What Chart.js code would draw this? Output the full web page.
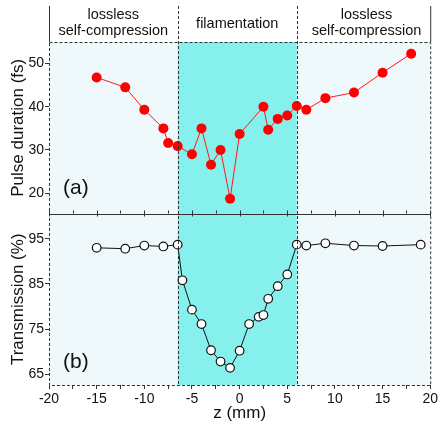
<!DOCTYPE html>
<html>
<head>
<meta charset="utf-8">
<script src="https://cdn.jsdelivr.net/npm/chart.js@4.4.0/dist/chart.umd.min.js"></script>
<style>
  html, body { margin: 0; padding: 0; background: #fff; }
  #wrap { width: 440px; height: 424px; }
</style>
</head>
<body>
<div id="wrap"><canvas id="chart-area"></canvas></div>
<script>
// pulse duration vs z
var zPulse   = [-15, -12, -10, -8, -7.5, -6.5, -5, -4, -3, -2, -1, 0, 2.5, 3, 4, 5, 6, 7, 9, 12, 15, 18];
var pulseFs  = [46.8, 44.5, 39.3, 35.0, 31.6, 30.9, 29.0, 35.0, 26.6, 30.0, 18.7, 33.7, 40.0, 34.7, 37.2, 38.0, 40.2, 39.3, 42.0, 43.3, 47.9, 52.3];
// transmission vs z
var zTrans   = [-15, -12, -10, -8, -6.5, -6, -5, -4, -3, -2, -1, 0, 1, 2, 2.5, 3, 4, 5, 6, 7, 9, 12, 15, 19];
var transPct = [93.0, 92.8, 93.5, 93.3, 93.7, 85.8, 79.3, 76.1, 70.3, 67.8, 66.4, 70.2, 76.1, 77.7, 78.1, 81.7, 84.5, 87.1, 93.7, 93.5, 94.0, 93.5, 93.4, 93.7];

var zTicks      = [-20, -17.5, -15, -12.5, -10, -7.5, -5, -2.5, 0, 2.5, 5, 7.5, 10, 12.5, 15, 17.5, 20];
var zLabels     = [-20, -15, -10, -5, 0, 5, 10, 15, 20];
var pulseTicks  = [20, 25, 30, 35, 40, 45, 50];
var pulseLabels = [20, 30, 40, 50];
var transTicks  = [65, 70, 75, 80, 85, 90, 95];
var transLabels = [65, 75, 85, 95];

var filamentZone = [-6.5, 6];
var zoneLabels = [['lossless', 'self-compression'], ['filamentation'], ['lossless', 'self-compression']];
var panelLetters = ['(a)', '(b)'];

var FONT = 'Arial, "Liberation Sans", sans-serif';
var INK = '#111';

let toPoints = function (xs, ys) {
    return xs.map((x, i) => ({ x: x, y: ys[i] }));
};

let setTicks = function (values) {
    return function (axis) {
        axis.ticks = values.map(v => ({ value: v }));
    };
};

let onlyLabels = function (labels) {
    return v => (labels.indexOf(v) >= 0 ? v : '');
};

// shaded zones, frame, divider, header text
var panelPlugin = {
    id: 'panels',
    beforeDraw: function (chart) {
        var c = chart.ctx, a = chart.chartArea, x = chart.scales.x;
        var x0 = x.getPixelForValue(filamentZone[0]);
        var x1 = x.getPixelForValue(filamentZone[1]);
        c.save();
        c.fillStyle = '#eff8fa';
        c.fillRect(a.left, a.top, a.right - a.left, a.bottom - a.top);
        c.fillStyle = '#86f0ec';
        c.fillRect(x0, a.top, x1 - x0, a.bottom - a.top);
        c.restore();
    },
    afterDraw: function (chart) {
        var c = chart.ctx, a = chart.chartArea, x = chart.scales.x;
        var yT = chart.scales.yT, yB = chart.scales.yB;
        var x0 = x.getPixelForValue(filamentZone[0]);
        var x1 = x.getPixelForValue(filamentZone[1]);
        var mid = yT.bottom;
        c.save();
        c.strokeStyle = '#333';
        c.lineWidth = 1;

        // header side lines
        c.beginPath();
        c.moveTo(a.left + 0.5, 6); c.lineTo(a.left + 0.5, a.top);
        c.moveTo(a.right + 0.5, 6); c.lineTo(a.right + 0.5, a.top);
        c.stroke();

        // dashed frame + zone borders
        c.setLineDash([3, 2]);
        c.strokeRect(a.left + 0.5, a.top + 0.5, a.right - a.left, a.bottom - a.top);
        c.beginPath();
        c.moveTo(Math.round(x0) + 0.5, 6); c.lineTo(Math.round(x0) + 0.5, a.bottom);
        c.moveTo(Math.round(x1) + 0.5, 6); c.lineTo(Math.round(x1) + 0.5, a.bottom);
        c.stroke();
        c.setLineDash([]);

        // solid divider between the two panels, ticks both sides
        c.beginPath();
        c.moveTo(a.left, Math.round(mid) + 0.5); c.lineTo(a.right, Math.round(mid) + 0.5);
        zTicks.forEach(function (v) {
            var px = Math.round(x.getPixelForValue(v)) + 0.5;
            var major = v % 5 === 0;
            c.moveTo(px, mid - 3); c.lineTo(px, mid + (major ? 3 : 0));
        });
        c.stroke();

        // header labels
        c.fillStyle = INK;
        c.font = '14.5px ' + FONT;
        c.textAlign = 'center';
        c.textBaseline = 'middle';
        var centers = [(a.left + x0) / 2, (x0 + x1) / 2, (x1 + a.right) / 2 + 3];
        zoneLabels.forEach(function (lines, i) {
            if (lines.length === 1) {
                c.fillText(lines[0], centers[i], 24);
            } else {
                c.fillText(lines[0], centers[i], 15);
                c.fillText(lines[1], centers[i], 31);
            }
        });

        // panel letters
        c.font = '21px ' + FONT;
        c.textAlign = 'left';
        c.fillText(panelLetters[0], a.left + 14, yT.bottom - 25);
        c.fillText(panelLetters[1], a.left + 14, yB.bottom - 23);
        c.restore();
    }
};

let yAxis = function (min, max, ticks, labels, title) {
    return {
        type: 'linear',
        position: 'left',
        stack: 'panels',
        stackWeight: 1,
        min: min,
        max: max,
        afterBuildTicks: setTicks(ticks),
        afterFit: function (axis) { axis.width = 49; },
        border: { display: false },
        grid: { drawOnChartArea: false, drawTicks: true, tickLength: 4, color: '#333' },
        ticks: {
            padding: 1,
            color: INK,
            font: { family: FONT, size: 14 },
            callback: onlyLabels(labels)
        },
        title: {
            display: true,
            text: title,
            color: INK,
            padding: 8,
            font: { family: FONT, size: 17 }
        }
    };
};

let buildChart = function () {
    var ctx = document.getElementById('chart-area').getContext('2d');
    var config = {
        type: 'line',
        data: {
            datasets: [{
                label: 'Pulse duration',
                data: toPoints(zPulse, pulseFs),
                yAxisID: 'yT',
                borderColor: '#ff1a1a',
                borderWidth: 1,
                backgroundColor: '#ff0000',
                pointBackgroundColor: '#ff0000',
                pointBorderColor: '#ff0000',
                pointRadius: 5,
                pointBorderWidth: 0,
                tension: 0
            }, {
                label: 'Transmission',
                data: toPoints(zTrans, transPct),
                yAxisID: 'yB',
                borderColor: '#111',
                borderWidth: 1,
                pointBackgroundColor: '#fff',
                pointBorderColor: '#111',
                pointRadius: 4.3,
                pointBorderWidth: 1.2,
                tension: 0
            }]
        },
        options: {
            responsive: true,
            maintainAspectRatio: false,
            animation: false,
            layout: { padding: { top: 42, right: 9, left: 0, bottom: 0 } },
            plugins: {
                legend: { display: false },
                tooltip: { enabled: false }
            },
            scales: {
                x: {
                    type: 'linear',
                    min: -20,
                    max: 20,
                    afterBuildTicks: setTicks(zTicks),
                    afterFit: function (axis) { axis.height = 39; },
                    border: { display: false },
                    grid: { drawOnChartArea: false, drawTicks: true, tickLength: 4, color: '#333' },
                    ticks: {
                        padding: 2,
                        maxRotation: 0,
                        autoSkip: false,
                        color: INK,
                        font: { family: FONT, size: 14 },
                        callback: onlyLabels(zLabels)
                    },
                    title: {
                        display: true,
                        text: 'z (mm)',
                        color: INK,
                        padding: 0,
                        font: { family: FONT, size: 17 }
                    }
                },
                // the first axis of a stack lands at the bottom
                yB: yAxis(62.6, 100.6, transTicks, transLabels, 'Transmission (%)'),
                yT: yAxis(15.3, 55, pulseTicks, pulseLabels, 'Pulse duration (fs)')
            }
        },
        plugins: [panelPlugin]
    };
    window.myChart = new Chart(ctx, config);
};

buildChart();
</script>
</body>
</html>
